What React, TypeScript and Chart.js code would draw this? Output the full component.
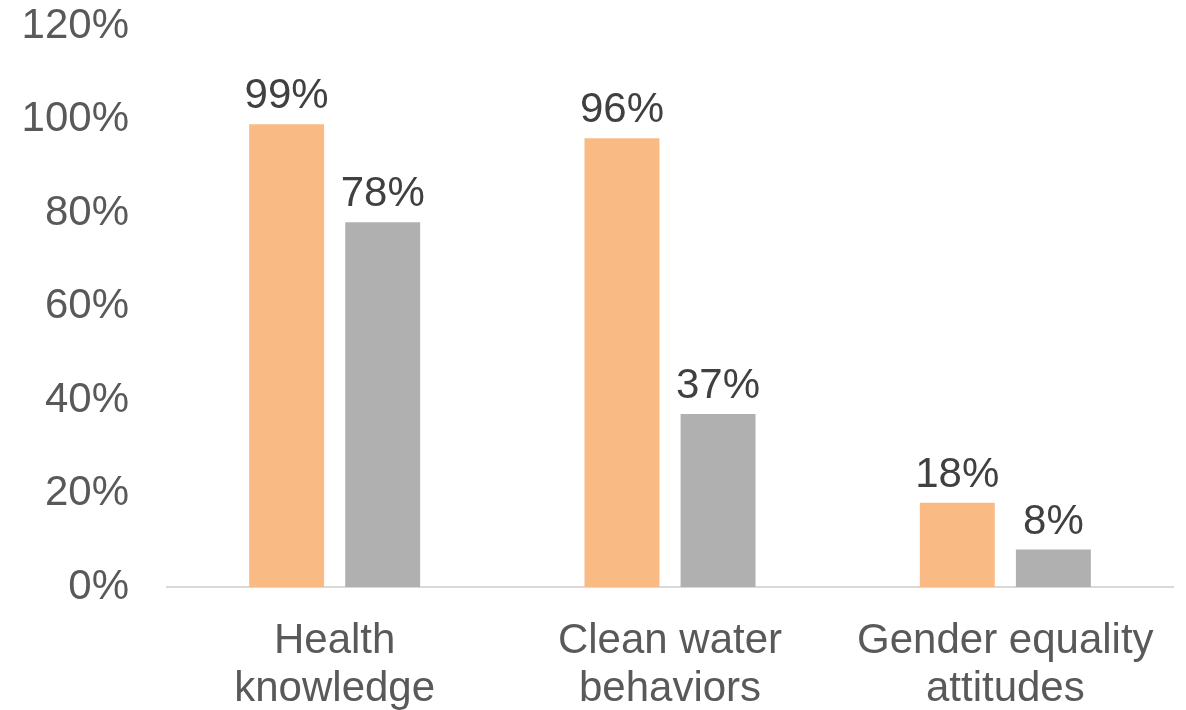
import React, { useEffect, useRef } from "react";
import { Chart, registerables } from "chart.js";

Chart.register(...registerables);

const categories: string[][] = [["Health", "knowledge"], ["Clean water", "behaviors"], ["Gender equality", "attitudes"]];
const seriesA: number[] = [99, 96, 18];
const seriesB: number[] = [78, 37, 8];
const yTicks: number[] = [0, 20, 40, 60, 80, 100, 120];

const FONT = "'Liberation Sans', Arial, sans-serif";

const valueLabels = {
  id: "valueLabels",
  afterDatasetsDraw(chart: any) {
    const ctx = chart.ctx;
    ctx.save();
    ctx.font = `42px ${FONT}`;
    ctx.fillStyle = "#404040";
    ctx.textAlign = "center";
    ctx.textBaseline = "alphabetic";
    chart.data.datasets.forEach((ds: any, i: number) => {
      const meta = chart.getDatasetMeta(i);
      meta.data.forEach((bar: any, j: number) => {
        ctx.fillText(ds.data[j] + "%", bar.x, bar.y - 16);
      });
    });
    ctx.restore();
  },
};

export default function App() {
  const ref = useRef<HTMLCanvasElement>(null);
  useEffect(() => {
    const chart = new Chart(ref.current!, {
      type: "bar",
      data: {
        labels: categories,
        datasets: [
          { label: "A", data: seriesA, backgroundColor: "#F9BB83", categoryPercentage: 0.573, barPercentage: 0.78 },
          { label: "B", data: seriesB, backgroundColor: "#B0B0B0", categoryPercentage: 0.573, barPercentage: 0.78 },
        ],
      },
      options: {
        animation: false,
        responsive: false,
        maintainAspectRatio: false,
        layout: { padding: { top: 0, right: 13, left: 0, bottom: 0 } },
        plugins: { legend: { display: false }, tooltip: { enabled: false } },
        scales: {
          x: {
            grid: { display: false, drawTicks: false },
            border: { display: true, color: "#D9D9D9", width: 2 },
            ticks: { color: "#595959", font: { family: FONT, size: 42, lineHeight: 1.143 }, padding: 30, maxRotation: 0, autoSkip: false },
            afterFit: (s: any) => { s.height = 123; },
          },
          y: {
            min: 0,
            max: 120,
            afterBuildTicks: (s: any) => { s.ticks = yTicks.map((v) => ({ value: v })); },
            grid: { display: false, drawTicks: false },
            border: { display: false },
            ticks: { color: "#595959", font: { family: FONT, size: 42 }, padding: 38, callback: (v: any) => v + "%" },
            afterFit: (s: any) => { s.width = 167; s.paddingTop = 26; s.paddingBottom = 0; },
          },
        },
      },
      plugins: [valueLabels],
    });
    return () => chart.destroy();
  }, []);
  return (
    <div style={{ position: "absolute", left: 0, top: 0, width: 1186, height: 710, background: "#fff" }}>
      <canvas ref={ref} width={1186} height={710} />
    </div>
  );
}
